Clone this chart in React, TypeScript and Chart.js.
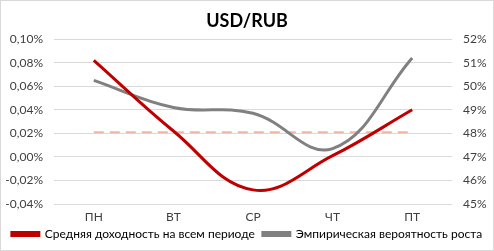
import React, { useEffect, useRef } from "react";
import { Chart, registerables } from "chart.js";

Chart.register(...registerables);

const CATEGORIES = ["ПН", "ВТ", "СР", "ЧТ", "ПТ"];
const AVG_RETURN = [0.082, 0.022, -0.028, 0.001, 0.04];
const GROWTH_PROB = [50.25, 49.1, 48.85, 47.35, 51.2];
const PERIOD_AVG = [0.021, 0.021, 0.021, 0.021, 0.021];
const LEFT_TICKS = { min: -0.04, max: 0.1, step: 0.02 };
const RIGHT_TICKS = { min: 45, max: 52, step: 1 };
const TITLE = "USD/RUB";
const LABEL_RETURN = "Средняя доходность на всем периоде";
const LABEL_PROB = "Эмпирическая вероятность роста";

const FONT = "Lato, 'Open Sans', sans-serif";

export default function App() {
  const ref = useRef<HTMLCanvasElement | null>(null);
  useEffect(() => {
    document.body.style.margin = "0";
    const ctx = ref.current!;
    const chart = new Chart(ctx, {
      type: "line",
      data: {
        labels: CATEGORIES,
        datasets: [
          {
            label: LABEL_RETURN,
            data: AVG_RETURN,
            borderColor: "#C00000",
            backgroundColor: "#C00000",
            borderWidth: 3,
            tension: 0.4,
            pointRadius: 0,
            yAxisID: "y",
            order: 1,
          },
          {
            label: LABEL_PROB,
            data: GROWTH_PROB,
            borderColor: "#808080",
            backgroundColor: "#808080",
            borderWidth: 3,
            tension: 0.4,
            pointRadius: 0,
            yAxisID: "y1",
            order: 2,
          },
          {
            label: "avg",
            data: PERIOD_AVG,
            borderColor: "#F4B6A0",
            borderWidth: 2,
            borderDash: [10, 6],
            pointRadius: 0,
            tension: 0,
            yAxisID: "y",
            order: 3,
          },
        ],
      },
      options: {
        animation: false,
        responsive: false,
        layout: { padding: { top: 0, left: 0, right: 0, bottom: 1 } },
        scales: {
          x: {
            offset: true,
            afterFit: (s: any) => {
              s.height = 16;
              s._computeLabelArea = () => undefined;
            },
            grid: { display: false, drawTicks: false },
            border: { display: false },
            ticks: { color: "#404040", font: { family: FONT, size: 12 }, padding: 6, autoSkip: false },
          },
          y: {
            position: "left",
            min: LEFT_TICKS.min,
            max: LEFT_TICKS.max,
            afterFit: (s: any) => { s.width = 54; },
            ticks: {
              stepSize: LEFT_TICKS.step,
              autoSkip: false,
              color: "#404040",
              font: { family: FONT, size: 12 },
              padding: 11,
              callback: (v: any) => Number(v).toFixed(2).replace(".", ",") + "%",
            },
            grid: { display: true, color: "#D9D9D9", lineWidth: 1, drawTicks: false },
            border: { display: false },
          },
          y1: {
            position: "right",
            min: RIGHT_TICKS.min,
            max: RIGHT_TICKS.max,
            afterFit: (s: any) => { s.width = 42; },
            ticks: {
              stepSize: RIGHT_TICKS.step,
              autoSkip: false,
              color: "#404040",
              font: { family: FONT, size: 12 },
              padding: 11,
              callback: (v: any) => Math.round(Number(v)) + "%",
            },
            grid: { display: false, drawTicks: false },
            border: { display: false },
          },
        },
        plugins: {
          title: {
            display: true,
            text: TITLE,
            color: "#000000",
            font: { family: FONT, size: 18, weight: "bold" },
            padding: { top: 10, bottom: 7.5 },
          },
          legend: {
            position: "bottom",
            labels: {
              filter: (item: any) => item.text !== "avg",
              color: "#000000",
              font: { family: FONT, size: 12 },
              boxWidth: 27,
              boxHeight: 3,
              padding: 8,
            },
          },
          tooltip: { enabled: false },
        },
      },
    });
    return () => chart.destroy();
  }, []);
  return (
    <div style={{ position: "relative", width: 494, height: 251 }}>
      <canvas ref={ref} width={494} height={251} style={{ display: "block" }} />
      <div
        style={{
          position: "absolute",
          left: 0,
          top: 0,
          width: 494,
          height: 251,
          boxSizing: "border-box",
          border: "1px solid #D9D9D9",
          pointerEvents: "none",
        }}
      />
    </div>
  );
}
